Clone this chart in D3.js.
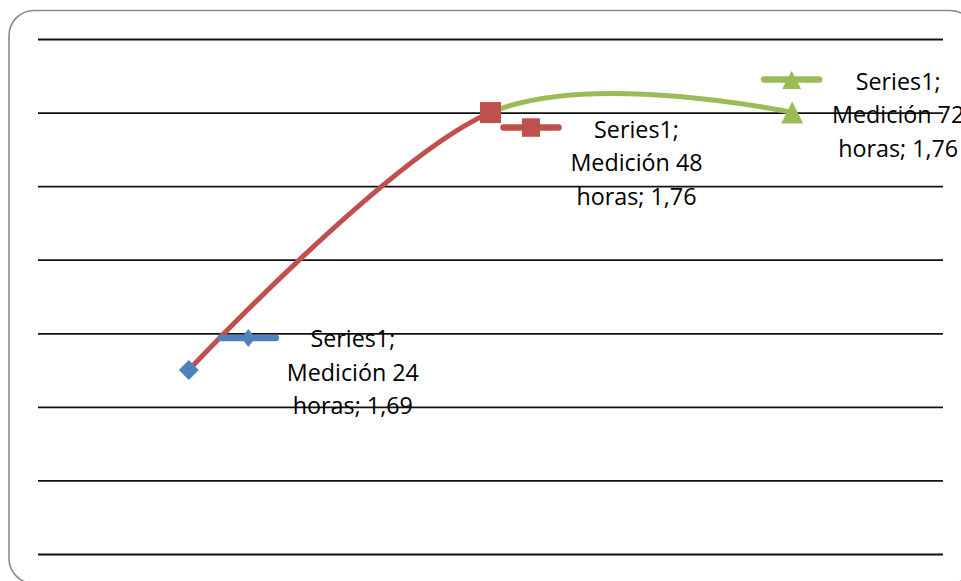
<!DOCTYPE html>
<html>
<head>
<meta charset="utf-8">
<script src="https://cdn.jsdelivr.net/npm/d3@7"></script>
<style>
  html, body { margin: 0; padding: 0; background: #fff; }
  svg { display: block; }
  text { font-family: "Open Sans", Lato, sans-serif; }
</style>
</head>
<body>
<svg id="chart" width="961" height="581"></svg>
<script>
// Chart data
const seriesName = "Series1";
const categories = ["Medición 24 horas", "Medición 48 horas", "Medición 72 horas"];
const values = [1.69, 1.76, 1.76];
const valueLabels = ["1,69", "1,76", "1,76"];
const gridTicks = [1.64, 1.66, 1.68, 1.70, 1.72, 1.74, 1.76, 1.78];
const pointColors = ["#4F81BD", "#C0504D", "#9BBB59"];
const markerTypes = ["diamond", "square", "triangle"];

const W = 961, H = 581;
const plot = { left: 38, right: 943, top: 39, bottom: 554 };

const svg = d3.select("#chart");

// outer chart frame (rounded)
svg.append("rect")
  .attr("x", 9).attr("y", 10.5)
  .attr("width", 966).attr("height", 573)
  .attr("rx", 25).attr("ry", 25)
  .attr("fill", "#fff")
  .attr("stroke", "#8a8a8a")
  .attr("stroke-width", 1.6);

const x = d3.scalePoint()
  .domain(categories)
  .range([plot.left, plot.right])
  .padding(0.5);

const y = d3.scaleLinear()
  .domain([1.64, 1.78])
  .range([plot.bottom, plot.top]);

// horizontal gridlines only, no tick labels
const gridAxis = d3.axisLeft(y)
  .tickValues(gridTicks)
  .tickSize(-(plot.right - plot.left))
  .tickFormat("");
const grid = svg.append("g")
  .attr("transform", `translate(${plot.left},0)`)
  .call(gridAxis);
grid.select(".domain").remove();
grid.selectAll(".tick line")
  .attr("stroke", "#111")
  .attr("stroke-width", 1.8);

const data = categories.map((c, i) => ({ c, v: values[i], i }));

// smoothed line, coloured per segment by the point it leads to
const line = d3.line()
  .x(d => x(d.c))
  .y(d => y(d.v))
  .curve(d3.curveCardinal.tension(0));

const defs = svg.append("defs");
for (let i = 1; i < data.length; i++) {
  const x0 = x(data[i - 1].c), x1 = x(data[i].c);
  defs.append("clipPath").attr("id", "seg" + i)
    .append("rect")
    .attr("x", x0).attr("y", 0)
    .attr("width", x1 - x0).attr("height", H);
  svg.append("path")
    .datum(data)
    .attr("d", line)
    .attr("fill", "none")
    .attr("stroke", pointColors[i])
    .attr("stroke-width", 5)
    .attr("stroke-linejoin", "round")
    .attr("clip-path", `url(#seg${i})`);
}

// marker shapes, centred on their bounding box
function markerPath(type, w, h) {
  const p = d3.path();
  const a = w / 2, b = h / 2;
  if (type === "diamond") {
    p.moveTo(0, -b); p.lineTo(a, 0); p.lineTo(0, b); p.lineTo(-a, 0);
  } else if (type === "square") {
    p.rect(-a, -b, w, h);
  } else {
    p.moveTo(0, -b); p.lineTo(a, b); p.lineTo(-a, b);
  }
  p.closePath();
  return p.toString();
}
const pointMarkerDims = { diamond: [20, 20], square: [21, 21], triangle: [22, 22] };
const keyMarkerDims = { diamond: [14, 18], square: [18, 18.5], triangle: [19, 18] };

function drawMarker(g, type, cx, cy, color, dims) {
  g.append("path")
    .attr("d", markerPath(type, dims[0], dims[1]))
    .attr("transform", `translate(${cx},${cy})`)
    .attr("fill", color);
}

// point markers
data.forEach(d => {
  const t = markerTypes[d.i];
  drawMarker(svg, t, x(d.c), y(d.v), pointColors[d.i], pointMarkerDims[t]);
});

// data labels with legend key: offsets relative to each point
const labelLayout = [
  { keyDx: 32, keyDy: -32, textDx: 164, baseDy: -23 },
  { keyDx: 13, keyDy: 15, textDx: 146, baseDy: 25 },
  { keyDx: -28, keyDy: -33, textDx: 106, baseDy: -23 }
];
const lineGap = 33.5;

data.forEach(d => {
  const L = labelLayout[d.i];
  const px = x(d.c), py = y(d.v);
  const g = svg.append("g");
  const kx = px + L.keyDx, ky = py + L.keyDy;
  const t = markerTypes[d.i];
  g.append("line")
    .attr("x1", kx).attr("x2", kx + 55)
    .attr("y1", ky).attr("y2", ky)
    .attr("stroke", pointColors[d.i])
    .attr("stroke-width", 6.5)
    .attr("stroke-linecap", "round");
  drawMarker(g, t, kx + 27.5, ky + (t === "triangle" ? 0.5 : 0), pointColors[d.i], keyMarkerDims[t]);

  const parts = categories[d.i].split(" ");
  const lines = [seriesName + ";", parts[0] + " " + parts[1], parts[2] + "; " + valueLabels[d.i]];
  const txt = g.append("text")
    .attr("text-anchor", "middle")
    .attr("font-size", 23.3)
    .attr("fill", "#000");
  lines.forEach((s, k) => {
    txt.append("tspan")
      .attr("x", px + L.textDx)
      .attr("y", py + L.baseDy + k * lineGap)
      .text(s);
  });
});
</script>
</body>
</html>
